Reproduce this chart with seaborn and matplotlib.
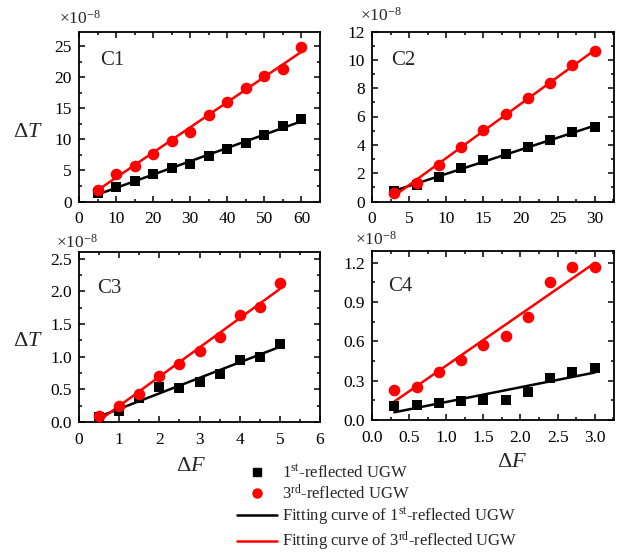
import numpy as np
import pandas as pd
import matplotlib
matplotlib.use("Agg")
import matplotlib.pyplot as plt
from matplotlib.ticker import MultipleLocator
from matplotlib.lines import Line2D
import seaborn as sns

# ---------------- data (values in units of 1e-8) ----------------
c1_x = [5, 10, 15, 20, 25, 30, 35, 40, 45, 50, 55, 60]
c1_first = [1.3, 2.4, 3.3, 4.4, 5.4, 6.1, 7.3, 8.5, 9.5, 10.7, 12.1, 13.3]
c1_third = [1.9, 4.5, 5.8, 7.7, 9.75, 11.2, 14.0, 16.0, 18.3, 20.3, 21.3, 24.9]

c2_x = [3, 6, 9, 12, 15, 18, 21, 24, 27, 30]
c2_first = [0.73, 1.2, 1.75, 2.33, 2.9, 3.35, 3.87, 4.32, 4.88, 5.24]
c2_third = [0.57, 1.32, 2.6, 3.84, 5.05, 6.16, 7.31, 8.37, 9.62, 10.59]

c3_x = [0.5, 1.0, 1.5, 2.0, 2.5, 3.0, 3.5, 4.0, 4.5, 5.0]
c3_first = [0.076, 0.17, 0.36, 0.53, 0.52, 0.615, 0.74, 0.945, 1.0, 1.2]
c3_third = [0.097, 0.25, 0.43, 0.71, 0.88, 1.08, 1.30, 1.64, 1.76, 2.13]

c4_x = [0.3, 0.6, 0.9, 1.2, 1.5, 1.8, 2.1, 2.4, 2.7, 3.0]
c4_first = [0.107, 0.114, 0.13, 0.147, 0.155, 0.153, 0.21, 0.32, 0.37, 0.40]
c4_third = [0.226, 0.25, 0.37, 0.46, 0.57, 0.64, 0.79, 1.05, 1.17, 1.17]

panel_names = ["C1", "C2", "C3", "C4"]
legend_labels = [r"1$^{\rm st}$-reflected UGW",
                 r"3$^{\rm rd}$-reflected UGW",
                 r"Fitting curve of 1$^{\rm st}$-reflected UGW",
                 r"Fitting curve of 3$^{\rm rd}$-reflected UGW"]

# ---------------- style ----------------
sns.set_theme(style="white")
plt.rcParams["font.family"] = ["Liberation Serif", "DejaVu Serif"]
plt.rcParams["mathtext.fontset"] = "custom"
plt.rcParams["mathtext.rm"] = "Liberation Serif"
plt.rcParams["mathtext.it"] = "Liberation Serif:italic"
plt.rcParams["mathtext.bf"] = "Liberation Serif:bold"

W, H = 622, 556
fig = plt.figure(figsize=(W / 100, H / 100), dpi=100)


def px_axes(l, t, r, b):
    return fig.add_axes([l / W, 1 - b / H, (r - l) / W, (b - t) / H])


panels = [
    dict(x=c1_x, a=c1_first, b=c1_third, box=(79, 31.5, 320, 201.5),
         xlim=(0, 65), ylim=(0, 27.4), xmaj=10, xmin=5, ymaj=5, ymin=2.5,
         yfmt="%d", xfmt="%d", lab=(0.087, 0.832), mul=(-0.083, 1.074),
         ylab=(-0.21, 0.403), xlab=None),
    dict(x=c2_x, a=c2_first, b=c2_third, box=(372, 31.5, 614, 201.5),
         xlim=(0, 32.6), ylim=(0, 12), xmaj=5, xmin=2.5, ymaj=2, ymin=1,
         yfmt="%d", xfmt="%d", lab=(0.079, 0.832), mul=(-0.05, 1.09),
         ylab=None, xlab=None),
    dict(x=c3_x, a=c3_first, b=c3_third, box=(79, 252, 320, 422),
         xlim=(0, 6), ylim=(0, 2.6), xmaj=1, xmin=0.5, ymaj=0.5, ymin=0.25,
         yfmt="%.1f", xfmt="%d", lab=(0.075, 0.788), mul=(-0.095, 1.053),
         ylab=(-0.21, 0.472), xlab=(0.465, -0.26)),
    dict(x=c4_x, a=c4_first, b=c4_third, box=(372, 251, 614, 420),
         xlim=(0, 3.26), ylim=(0, 1.29), xmaj=0.5, xmin=0.25, ymaj=0.3, ymin=0.15,
         yfmt="%.1f", xfmt="%.1f", lab=(0.066, 0.787), mul=(-0.07, 1.065),
         ylab=None, xlab=(0.579, -0.254)),
]

for name, p in zip(panel_names, panels):
    ax = px_axes(*p["box"])
    x = np.array(p["x"], dtype=float)
    df = pd.DataFrame({"x": x, "first": p["a"], "third": p["b"]})
    # linear fits
    k1, b1 = np.polyfit(df["x"], df["first"], 1)
    k3, b3 = np.polyfit(df["x"], df["third"], 1)
    fit = pd.DataFrame({"x": x, "f1": k1 * x + b1, "f3": k3 * x + b3})
    sns.lineplot(data=fit, x="x", y="f1", color="black", lw=1.8, ax=ax, zorder=2)
    sns.lineplot(data=fit, x="x", y="f3", color="#ff0000", lw=1.8, ax=ax, zorder=2)
    sns.scatterplot(data=df, x="x", y="first", marker="s", color="black",
                    s=55, linewidth=0, ax=ax, zorder=3)
    sns.scatterplot(data=df, x="x", y="third", marker="o", color="#ff0000",
                    s=70, linewidth=0, ax=ax, zorder=3)

    ax.set_xlim(*p["xlim"])
    ax.set_ylim(*p["ylim"])
    ax.xaxis.set_major_locator(MultipleLocator(p["xmaj"]))
    ax.xaxis.set_minor_locator(MultipleLocator(p["xmin"]))
    ax.yaxis.set_major_locator(MultipleLocator(p["ymaj"]))
    ax.yaxis.set_minor_locator(MultipleLocator(p["ymin"]))
    ax.xaxis.set_major_formatter(matplotlib.ticker.FormatStrFormatter(p["xfmt"]))
    ax.yaxis.set_major_formatter(matplotlib.ticker.FormatStrFormatter(p["yfmt"]))
    ax.tick_params(which="both", direction="in", top=True, right=True,
                   bottom=True, left=True, color="black", width=1.1)
    ax.tick_params(which="major", length=4.5, labelsize=12.5,
                   labelcolor="black")
    ax.tick_params(axis="x", which="major", pad=7)
    ax.tick_params(axis="y", which="major", pad=5)
    ax.tick_params(which="minor", length=2.5)
    for s in ax.spines.values():
        s.set_visible(True)
        s.set_color("black")
        s.set_linewidth(1.3)
    ax.set_xlabel("")
    ax.set_ylabel("")
    ax.text(p["lab"][0], p["lab"][1], name, transform=ax.transAxes,
            fontsize=15, ha="left", va="center")
    ax.text(p["mul"][0], p["mul"][1], r"$\times$10$^{-8}$", transform=ax.transAxes,
            fontsize=12.5, ha="left", va="center")
    if p["ylab"] is not None:
        ax.text(p["ylab"][0], p["ylab"][1], r"$\Delta T$", transform=ax.transAxes,
                fontsize=16, ha="center", va="center")
    if p["xlab"] is not None:
        ax.text(p["xlab"][0], p["xlab"][1], r"$\Delta F$", transform=ax.transAxes,
                fontsize=16, ha="center", va="center")

handles = [
    Line2D([], [], ls="none", marker="s", color="black", markersize=6),
    Line2D([], [], ls="none", marker="o", color="#ff0000", markersize=6.5),
    Line2D([], [], color="black", lw=1.8),
    Line2D([], [], color="#ff0000", lw=1.8),
]
fig.legend(handles, legend_labels, loc="upper left",
           bbox_to_anchor=(237 / W, 1 - 464 / H), frameon=False,
           fontsize=12, handlelength=2.4, handletextpad=0.3,
           borderpad=0, borderaxespad=0, labelspacing=0.15)

fig.savefig("out.png", dpi=100)
